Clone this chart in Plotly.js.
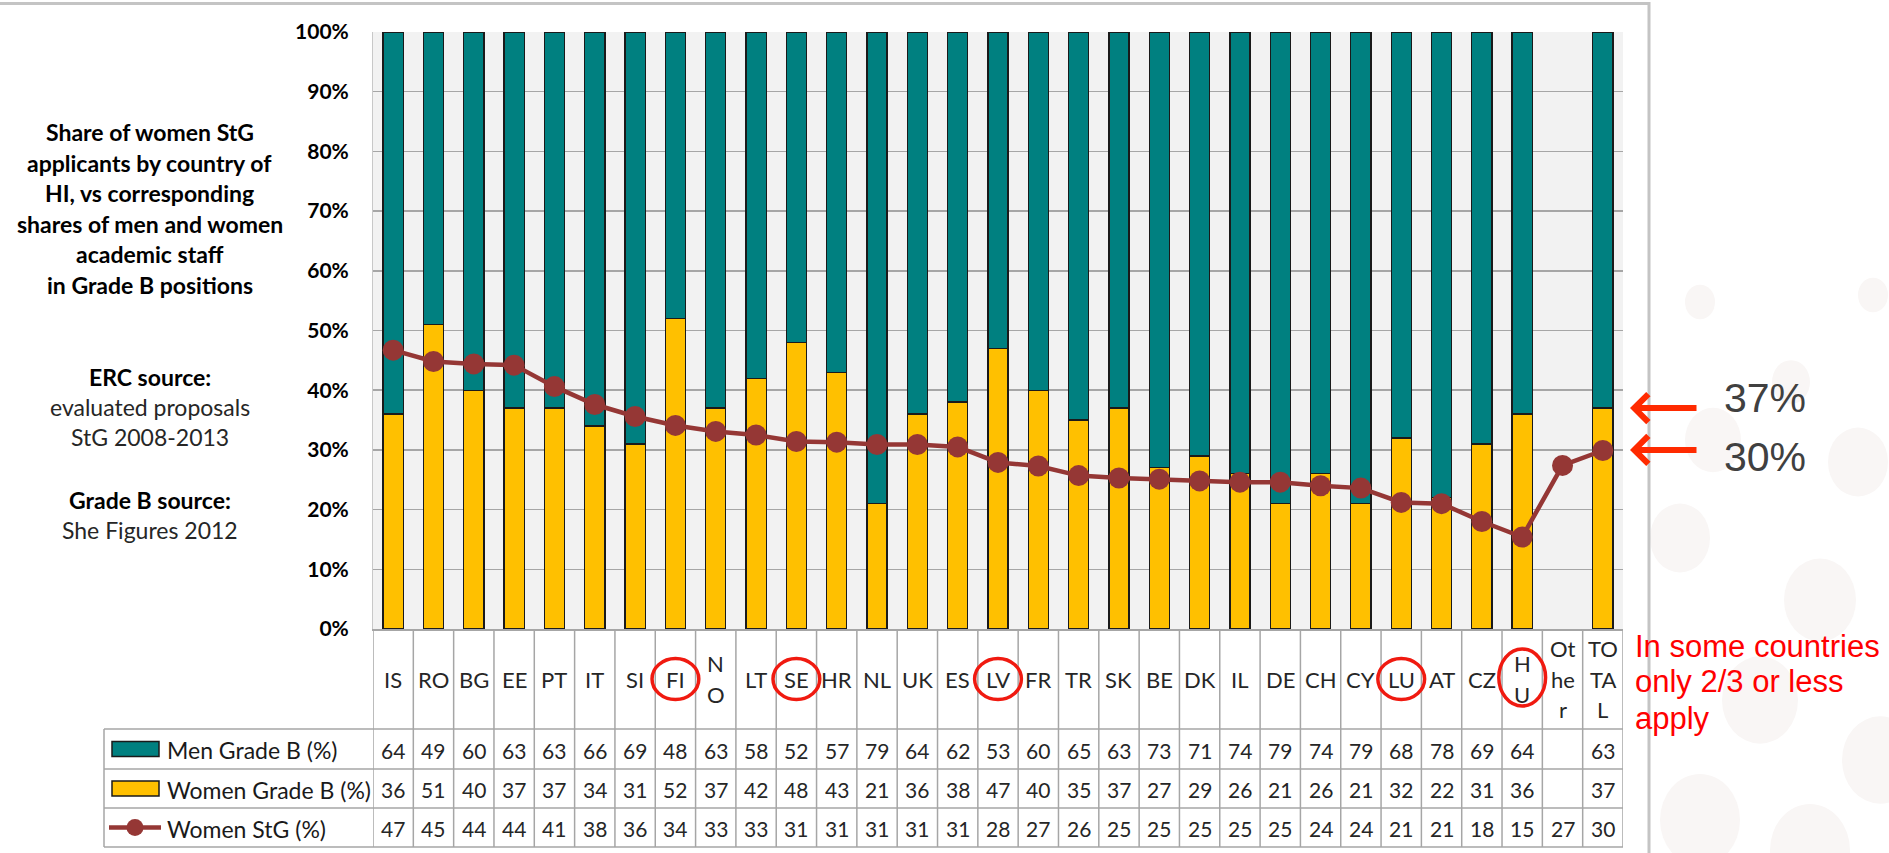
<!DOCTYPE html>
<html>
<head>
<meta charset="utf-8">
<script src="https://cdn.plot.ly/plotly-3.0.1.min.js"></script>
<style>
  html, body { margin: 0; padding: 0; background: #ffffff; }
  #chart { width: 1889px; height: 853px; }
</style>
</head>
<body>
<div id="chart"></div>
<script>
// ---------------- DATA ----------------
const categories = ['IS','RO','BG','EE','PT','IT','SI','FI','NO','LT','SE','HR','NL','UK','ES','LV','FR','TR','SK','BE','DK','IL','DE','CH','CY','LU','AT','CZ','HU','Other','TOTAL'];
const categoryLabels = ['IS','RO','BG','EE','PT','IT','SI','FI','N\nO','LT','SE','HR','NL','UK','ES','LV','FR','TR','SK','BE','DK','IL','DE','CH','CY','LU','AT','CZ','H\nU','Ot\nhe\nr','TO\nTA\nL'];
const menGradeB   = [64,49,60,63,63,66,69,48,63,58,52,57,79,64,62,53,60,65,63,73,71,74,79,74,79,68,78,69,64,null,63];
const womenGradeB = [36,51,40,37,37,34,31,52,37,42,48,43,21,36,38,47,40,35,37,27,29,26,21,26,21,32,22,31,36,null,37];
const womenStG    = [46.7,44.8,44.4,44.2,40.6,37.6,35.6,34.1,33.1,32.5,31.4,31.3,30.9,30.9,30.5,27.9,27.3,25.7,25.3,25.1,24.8,24.6,24.6,24.0,23.6,21.2,21.0,18.0,15.4,27.4,29.9];
const highlighted = ['FI','SE','LV','LU','HU'];
const seriesNames = ['Men Grade B (%)','Women Grade B (%)','Women StG (%)'];
const sideTitle = ['Share of women StG','applicants by country of','HI, vs corresponding','shares of men and women','academic staff','in Grade B positions'];
const note = ['In some countries','only 2/3 or less','apply'];

// ---------------- GEOMETRY (pixels) ----------------
const W = 1889, H = 853;
const PL = 373, PR = 1623, PT = 32, PB = 629;
const PW = PR - PL, PH = PB - PT;
const px = X => (X - PL) / PW;
const py = Y => (PB - Y) / PH;
const catBot = 729, rowBots = [769, 808, 847], legLeft = 104;

const C_TEAL = '#008080', C_GOLD = '#FFC000', C_LINE = '#953735', C_GRID = '#A6A6A6', C_TAB = '#A6A6A6';
const FONT = 'Lato, "Open Sans", sans-serif';
const ARIAL = '"Liberation Sans", Arial, sans-serif';

// ---------------- TRACES ----------------
const traces = [
  { type: 'bar', name: seriesNames[1], x: categories, y: womenGradeB,
    marker: { color: C_GOLD, line: { color: '#1a1a1a', width: 1.3 } }, hoverinfo: 'skip' },
  { type: 'bar', name: seriesNames[0], x: categories, y: menGradeB,
    marker: { color: C_TEAL, line: { color: '#1a1a1a', width: 1.3 } }, hoverinfo: 'skip' },
  { type: 'scatter', mode: 'lines+markers', name: seriesNames[2], x: categories, y: womenStG,
    line: { color: C_LINE, width: 4.5 }, marker: { color: C_LINE, size: 21 }, hoverinfo: 'skip' }
];

// ---------------- SHAPES ----------------
const shapes = [];
// faint background dots (slide decoration)
const dots = [[1700,302,15],[1873,295,15],[1791,382,19],[1858,462,30],[1713,440,28],[1680,538,30],[1820,600,36],[1760,700,38],[1880,760,38],[1700,820,40],[1810,850,40]];
dots.forEach(d => shapes.push({ type: 'circle', xref: 'paper', yref: 'paper', layer: 'below',
  x0: px(d[0]-d[2]), x1: px(d[0]+d[2]), y0: py(d[1]+d[2]*1.15), y1: py(d[1]-d[2]*1.15),
  fillcolor: '#F9F6F5', line: { width: 0 } }));
// outer frame
shapes.push({ type: 'rect', xref: 'paper', yref: 'paper', x0: px(-10), x1: px(1649), y0: py(870), y1: py(3.5),
  line: { color: '#C4C4C4', width: 3 }, fillcolor: 'rgba(0,0,0,0)' });
// table horizontal lines
[catBot].concat(rowBots).forEach(Y => shapes.push({ type: 'line', xref: 'paper', yref: 'paper',
  x0: px(legLeft), x1: px(PR), y0: py(Y), y1: py(Y), line: { color: C_TAB, width: 1.5 } }));
// legend column left line
shapes.push({ type: 'line', xref: 'paper', yref: 'paper', x0: px(legLeft), x1: px(legLeft),
  y0: py(catBot), y1: py(rowBots[2]), line: { color: C_TAB, width: 1.5 } });
// category column boundaries
for (let i = 0; i <= categories.length; i++) {
  shapes.push({ type: 'line', xref: 'x', yref: 'paper', x0: i - 0.5, x1: i - 0.5,
    y0: py(PB), y1: py(rowBots[2]), line: { color: C_TAB, width: 1.5 } });
}
// red ellipses around highlighted categories
highlighted.forEach(c => {
  const i = categories.indexOf(c);
  const tall = categoryLabels[i].includes('\n');
  const hh = tall ? 28.5 : 20.5, cy = tall ? 677.5 : 679;
  shapes.push({ type: 'circle', xref: 'x', yref: 'paper', x0: i - 0.58, x1: i + 0.58,
    y0: py(cy + hh), y1: py(cy - hh), line: { color: '#F01A10', width: 3.5 } });
});
// legend keys in table
const rowCenters = [749, 788.5, 827.5];
shapes.push({ type: 'rect', xref: 'paper', yref: 'paper', x0: px(112), x1: px(159), y0: py(rowCenters[0]+7.5), y1: py(rowCenters[0]-7.5),
  fillcolor: C_TEAL, line: { color: '#1a1a1a', width: 1.5 } });
shapes.push({ type: 'rect', xref: 'paper', yref: 'paper', x0: px(112), x1: px(159), y0: py(rowCenters[1]+7.5), y1: py(rowCenters[1]-7.5),
  fillcolor: C_GOLD, line: { color: '#1a1a1a', width: 1.5 } });
shapes.push({ type: 'line', xref: 'paper', yref: 'paper', x0: px(109), x1: px(161), y0: py(rowCenters[2]), y1: py(rowCenters[2]),
  line: { color: C_LINE, width: 4.5 } });
shapes.push({ type: 'circle', xref: 'paper', yref: 'paper', x0: px(135-8.5), x1: px(135+8.5), y0: py(rowCenters[2]+8.5), y1: py(rowCenters[2]-8.5),
  fillcolor: C_LINE, line: { width: 0 } });

// ---------------- ANNOTATIONS ----------------
const annotations = [];
function txt(text, X, Y, size, opts) {
  annotations.push(Object.assign({ xref: 'paper', yref: 'paper', x: px(X), y: py(Y), text: text, showarrow: false,
    xanchor: 'center', yanchor: 'middle', font: { family: FONT, size: size, color: '#000' } }, opts || {}));
}
// category labels (one annotation per line)
categories.forEach((c, i) => {
  const lines = categoryLabels[i].split('\n');
  lines.forEach((ln, k) => {
    annotations.push({ xref: 'x', yref: 'paper', x: c, y: py(679 + (k - (lines.length - 1) / 2) * 30.5),
      text: ln, showarrow: false, xanchor: 'center', yanchor: 'middle',
      font: { family: FONT, size: 22, color: '#262626' } });
  });
});
// table values
const rows = [menGradeB, womenGradeB, womenStG];
rows.forEach((arr, r) => {
  arr.forEach((v, i) => {
    if (v === null) return;
    annotations.push({ xref: 'x', yref: 'paper', x: categories[i], y: py(rowCenters[r] + 1), text: String(Math.round(v)),
      showarrow: false, xanchor: 'center', yanchor: 'middle', font: { family: FONT, size: 21, color: '#262626' } });
  });
  txt(seriesNames[r], 165, rowCenters[r] + 1, 23, { xanchor: 'left', font: { family: FONT, size: 23, color: '#1a1a1a' } });
});
// side title block
const SX = 149.5;
sideTitle.forEach((t, k) => txt(t, SX, 132 + k * 30.6, 23, { font: { family: FONT, size: 23, color: '#000', weight: 700 } }));
txt('ERC source:', SX, 377, 23, { font: { family: FONT, size: 23, color: '#000', weight: 700 } });
txt('evaluated proposals', SX, 407, 23, { font: { family: FONT, size: 23, color: '#262626' } });
txt('StG 2008-2013', SX, 437, 23, { font: { family: FONT, size: 23, color: '#262626' } });
txt('Grade B source:', SX, 500, 23, { font: { family: FONT, size: 23, color: '#000', weight: 700 } });
txt('She Figures 2012', SX, 530, 23, { font: { family: FONT, size: 23, color: '#262626' } });
// right side arrows pointing at TOTAL values
const last = categories.length - 1;
[[Math.round(womenGradeB[last]), 398], [Math.round(womenStG[last]), 457]].forEach(([val, textY]) => {
  annotations.push({ xref: 'paper', yref: 'y', x: px(1630), y: val, ax: 68, ay: 0, text: '', showarrow: true,
    arrowhead: 4, arrowsize: 0.9, arrowwidth: 6, arrowcolor: '#FF2A00', standoff: 0 });
  txt(val + '%', 1722, textY, 41, { xanchor: 'left', font: { family: ARIAL, size: 41, color: '#404040' } });
});
// red note
note.forEach((t, k) => txt(t, 1633, 646 + k * 36, 31, { xanchor: 'left', font: { family: ARIAL, size: 31, color: '#FF0000' } }));

// ---------------- LAYOUT ----------------
const layout = {
  width: W, height: H,
  margin: { l: PL, r: W - PR, t: PT, b: H - PB, pad: 0 },
  paper_bgcolor: '#ffffff', plot_bgcolor: '#F2F2F2',
  barmode: 'stack', bargap: 0.5, showlegend: false,
  xaxis: { type: 'category', range: [-0.5, categories.length - 0.5], showticklabels: false, ticks: '',
    showgrid: false, zeroline: false, showline: true, linecolor: C_TAB, linewidth: 1.5, fixedrange: true },
  yaxis: { range: [0, 100], dtick: 10, ticksuffix: '%', showgrid: true, gridcolor: C_GRID, gridwidth: 1.5,
    zeroline: false, showline: true, linecolor: '#C8C8C8', linewidth: 1,
    ticks: 'outside', ticklen: 19, tickcolor: 'rgba(0,0,0,0)',
    tickfont: { family: FONT, size: 21, color: '#000', weight: 700 }, fixedrange: true },
  shapes: shapes, annotations: annotations
};

Plotly.newPlot('chart', traces, layout, { staticPlot: true, displayModeBar: false });
</script>
</body>
</html>
